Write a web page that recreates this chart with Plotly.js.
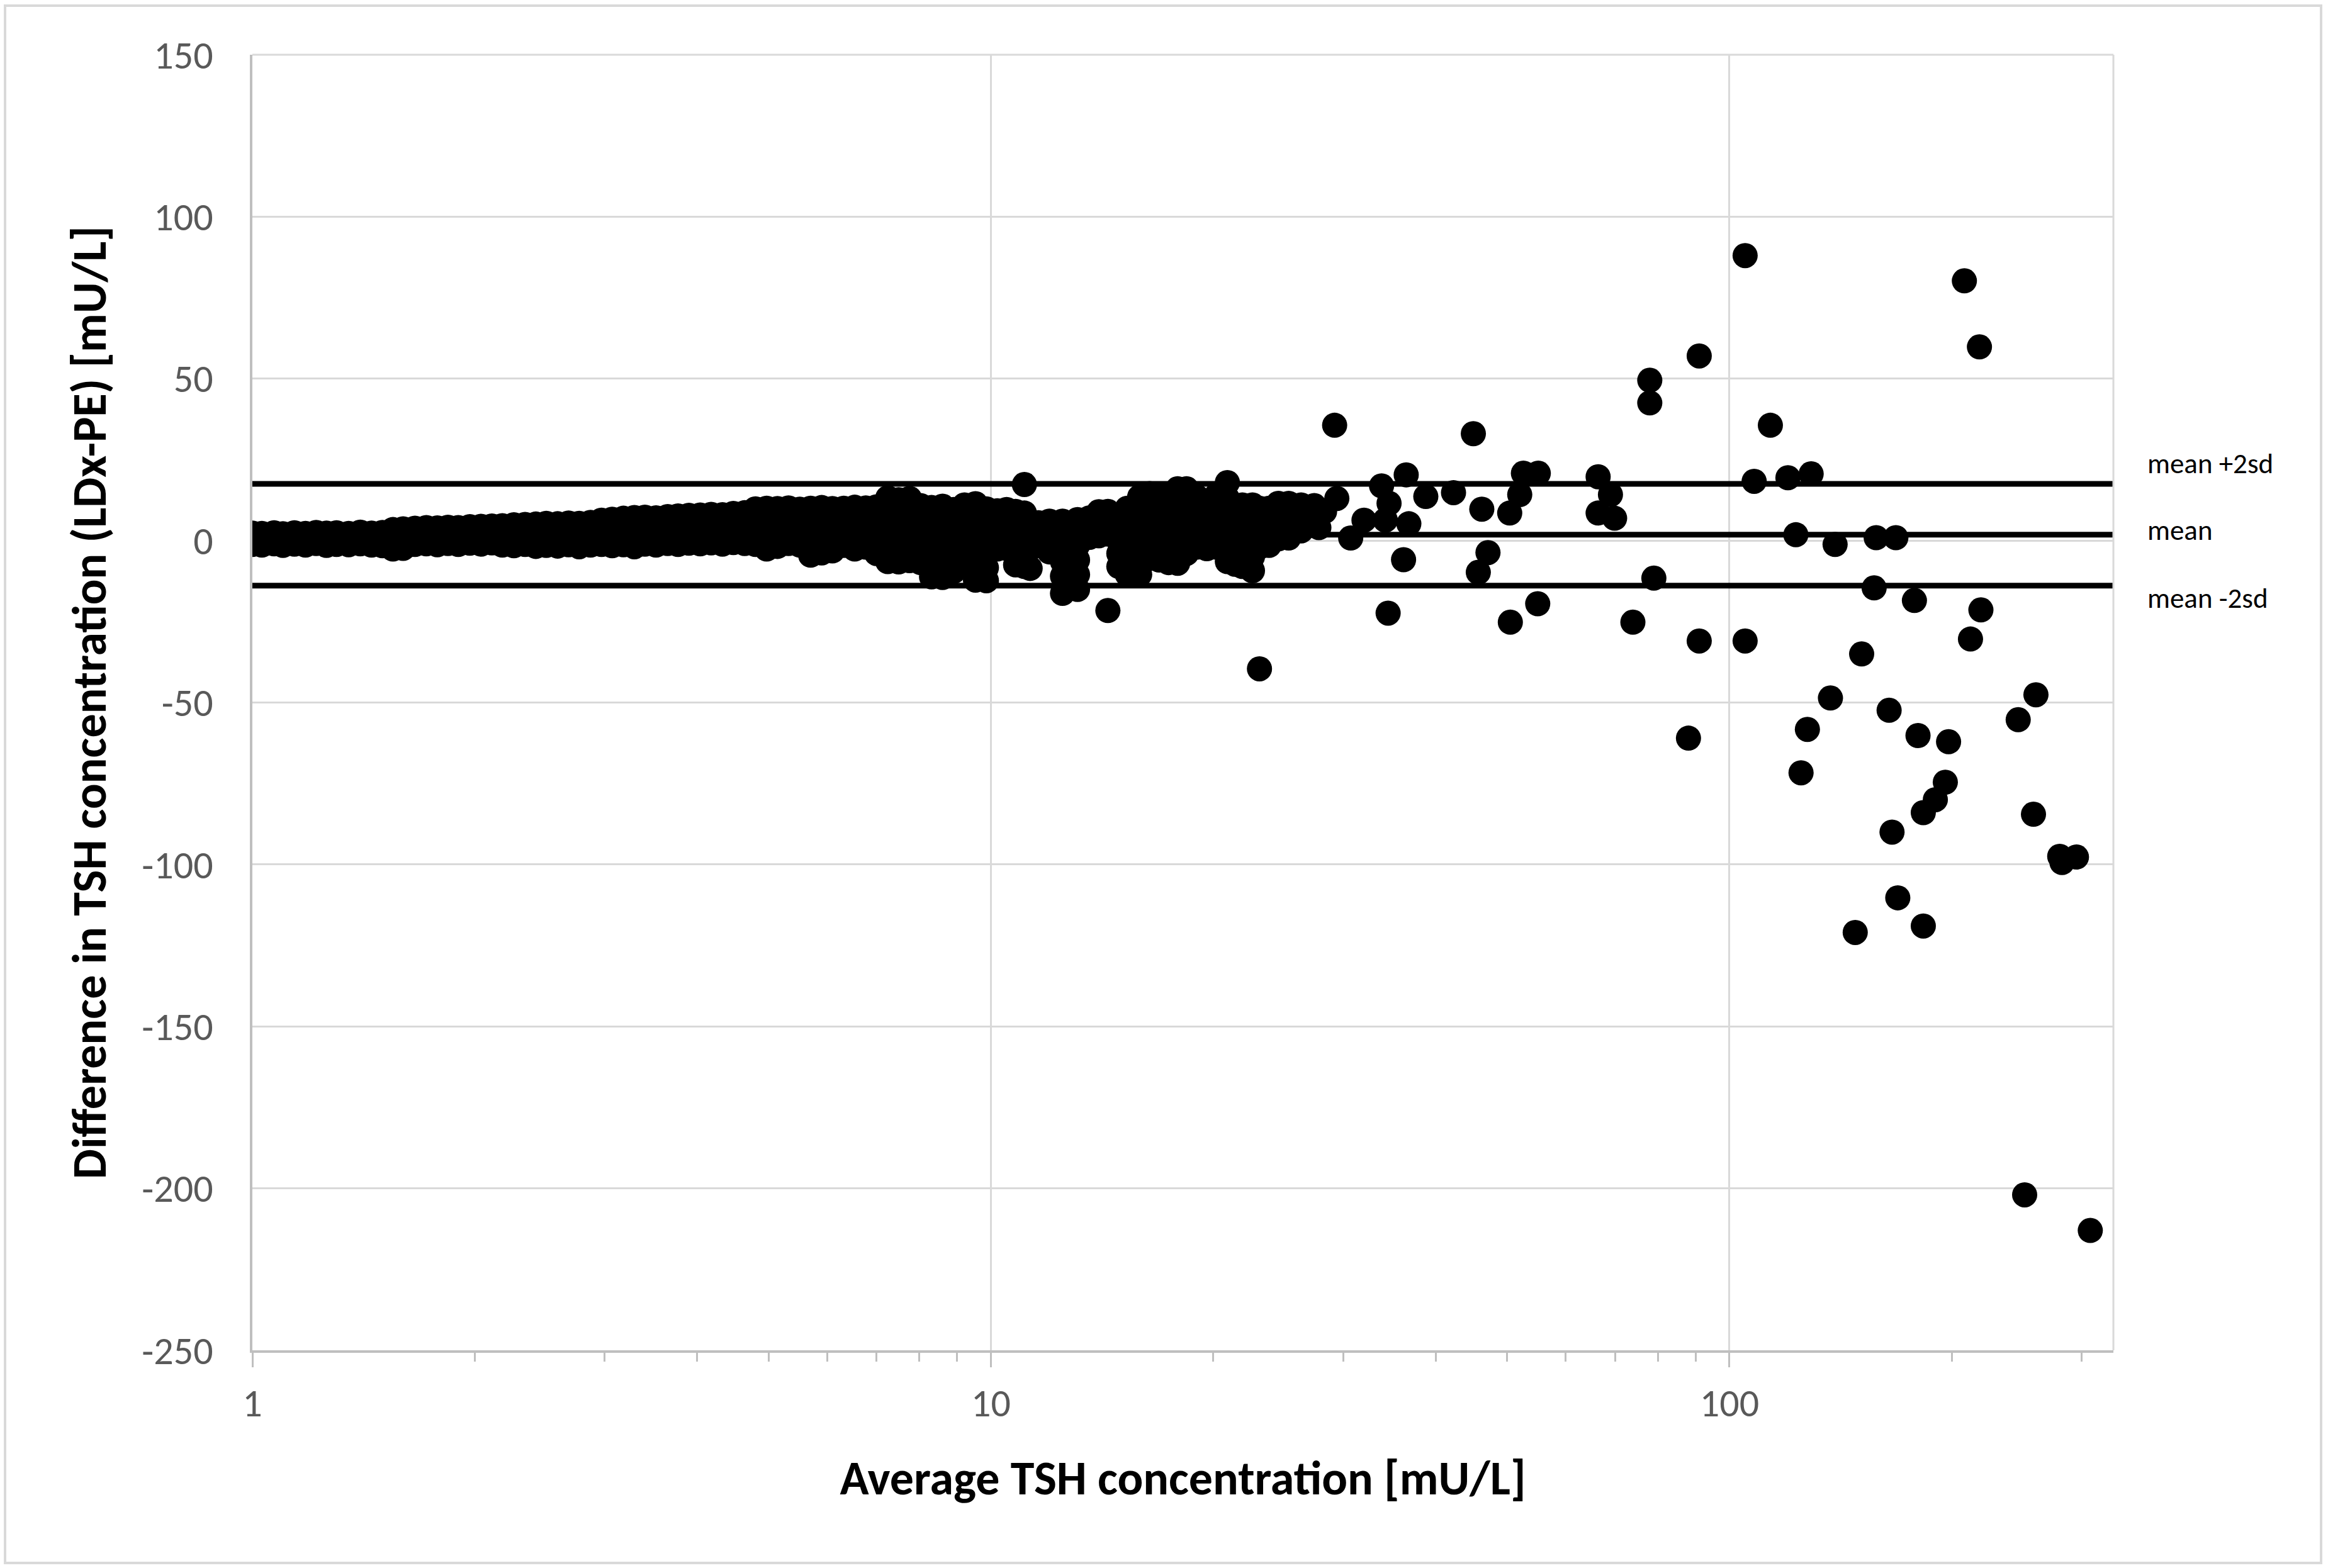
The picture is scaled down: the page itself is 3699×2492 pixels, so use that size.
<!DOCTYPE html>
<html>
<head>
<meta charset="utf-8">
<script src="https://cdn.plot.ly/plotly-3.0.1.min.js"></script>
<style>
html,body{margin:0;padding:0;background:#ffffff;}
#chart{width:3699px;height:2492px;}
</style>
</head>
<body>
<div id="chart"></div>
<script>
// Average TSH concentration [mU/L] (x) and the differences (y) read at each x
const avgTSH = [1.00,1.03,1.07,1.10,1.14,1.18,1.22,1.26,1.30,1.35,1.40,1.45,1.50,1.55,1.60,1.66,1.72,1.78,1.84,1.90,
  1.97,2.04,2.11,2.18,2.26,2.34,2.42,2.50,2.59,2.68,2.77,2.87,2.97,3.07,3.18,3.29,3.40,3.52,3.65,3.77,
  3.90,4.04,4.18,4.33,4.48,4.64,4.80,4.97,5.14,5.32,5.51,5.70,5.90,6.10,6.32,6.54,6.77,7.00,7.25,7.50,
  7.76,8.03,8.31,8.60,8.90,9.21,9.53,9.86,10.2,10.5,10.8,11.1,11.3,11.6,12.0,12.5,13.1,13.6,14.0,14.4,
  14.9,15.3,15.9,16.4,16.9,17.4,17.9,18.4,19.0,19.6,20.2,20.9,21.4,21.9,22.6,23.1,23.8,24.5,25.3,26.3,
  27.4,27.8,28.3,29.2,29.4,30.7,32.0,33.8,34.2,34.5,34.6,36.2,36.5,36.8,38.8,42.3,45.0,45.7,46.2,47.1,
  50.4,50.5,52.0,52.6,55.0,55.1,66.4,69.0,69.9,74.0,78.0,79.0,88.0,91.0,105,108,113.6,120,123,125,
  127.5,129,137,139,148,151,157,158,164.5,166,168,169,178,180,183,190,196,198,208,212,
  218,219,246,251,258,260,280,282,295,308];

const diffTSH = [
  [-1.2,1.0,2.3],[-1.4,0.6,2.2],[-1.0,1.2,2.4],[-1.5,0.4,2.1],[-1.1,0.9,2.4],[-1.4,0.7,2.2],[-0.9,1.1,2.5],[-1.5,0.3,2.3],[-1.2,1.0,2.4],[-1.3,0.8,2.2],
  [-1.0,1.2,2.6],[-1.4,0.5,2.3],[-1.6,0.9,2.5],[-2.6,0.4,3.4],[-2.4,1.0,3.6],[-1.2,1.3,3.8],[-1.0,1.6,4.0],[-1.3,1.1,3.9],[-0.9,1.8,4.1],[-1.2,1.4,4.0],
  [-0.8,1.9,4.3],[-1.1,1.5,4.4],[-0.7,2.0,4.5],[-1.4,1.7,4.6],[-1.6,1.8,4.9],[-1.2,2.2,5.0],[-1.8,1.6,5.1],[-1.5,2.0,5.3],[-1.7,2.3,5.2],[-1.3,2.1,5.4],
  [-1.9,1.9,5.3],[-1.4,2.4,5.6],[-1.2,2.6,6.3],[-1.6,2.2,6.6],[-1.3,2.8,6.9],[-1.9,2.5,7.1],[-1.1,3.0,7.2],[-1.4,2.7,7.0],[-0.9,3.3,7.4],[-1.2,3.1,7.6],
  [-0.8,3.5,7.8],[-1.0,3.2,7.9],[-0.7,3.6,8.1],[-1.1,3.4,8.0],[-0.6,3.9,8.4],[-0.9,3.5,8.6],[-1.2,3.0,6.5,9.8],[-2.6,1.5,5.6,10.0],[-1.8,2.0,6.0,9.9],[-0.9,2.6,6.4,10.1],
  [-1.4,2.2,5.8,9.7],[-4.5,-0.5,3.0,6.6,10.0],[-3.8,0.2,3.6,7.0,10.2],[-3.2,0.6,4.0,7.3,9.9],[-1.5,2.4,6.2,10.0],[-2.6,1.2,4.8,8.0,10.3],[-2.0,1.8,5.2,8.4,10.1],[-4.0,-0.2,3.4,7.0,10.4],[-6.5,-2.5,1.5,5.4,9.2,13.2],[-6.6,-2.8,1.0,4.8,8.6,12.6],
  [-6.2,-2.2,1.8,5.6,9.4,13.0],[-6.8,-3.0,0.8,4.6,8.2,10.8],[-11.2,-7.2,-3.2,0.6,4.4,8.0,10.2],[-11.4,-7.4,-3.4,0.4,4.2,7.8,10.6],[-9.5,-5.6,-1.8,2.0,5.8,9.6],[-8.0,-4.2,-0.4,3.4,7.2,11.0],[-12.2,-8.2,-4.2,-0.2,3.8,7.6,11.4],[-12.4,-8.4,-4.4,-0.4,3.4,7.0,9.8],[-2.6,1.0,4.8,9.2],[-2.4,1.2,5.0,9.6],
  [-7.5,-3.0,1.0,5.0,9.0],[-8.0,-4.0,0.5,4.5,8.5,17.3],[-8.6,-2.5,2.0,6.0],[-1.0,3.0,5.5],[-3.5,0.5,4.0,6.0],[-16.3,-11.0,-6.5,-2.0,2.0,6.0],[-15.1,-10.5,-6.0,-1.5,2.5,6.5],[1.0,4.0,7.0],[1.5,5.0,8.9],[-21.6,2.0,6.0,9.0],
  [-8.0,-4.0,0.0,4.0,8.0],[-10.5,-6.0,-2.0,2.0,6.0,10.0],[-10.5,-6.0,-2.0,2.0,6.0,9.5,13.5],[-5.5,-1.5,2.5,6.5,10.5,14.5],[-6.0,-2.0,2.0,6.0,10.0,14.0],[-6.8,-3.0,1.0,5.0,9.0,13.0],[-7.0,-3.5,0.5,4.5,8.5,12.5,16.0],[-4.0,0.0,4.0,8.0,12.0,16.0],[-2.0,2.0,6.0,10.0,13.5],[-2.5,1.5,5.5,9.5],
  [-2.0,2.0,6.0,10.0,14.0],[-6.5,-3.0,1.0,5.0,9.0,13.0,17.9],[-7.3,-3.5,0.5,4.5,8.5],[-8.0,-4.0,0.0,4.0,8.0,11.0],[-9.3,-5.0,-1.0,3.0,7.0,11.0],[-39.6,-2.0,2.0,6.0,10.0],[-1.5,2.5,6.5,10.0],[0.5,4.5,8.5,11.5],[0.8,6.4,11.5],[3.0,8.0,11.0],
  [6.0,10.8],[4.0],[9.0],[35.6],[13.0],[0.8],[6.3],[16.9],[6.3],[-22.4],
  [11.5],[-5.9],[20.3],[5.2],[13.6],[14.8],[33.0],[-9.8],[9.7],[-3.7],
  [8.5],[-25.2],[14.2],[20.8],[-19.5],[20.8],[8.5,19.7],[14.2],[6.9],[-25.2],
  [42.5,49.5],[-11.6],[-61.0],[-31.0,57.0],[-31.0,88.0],[18.3],[35.6],[19.4],[1.8],[-71.7],
  [-58.3],[20.6],[-48.6],[-1.2],[-121.0],[-35.0],[-14.6],[0.9],[-52.4],[-90.0],
  [0.9],[-110.3],[-18.5],[-60.2],[-119.0,-84.0],[-80.0],[-74.6],[-62.1],[80.2],[-30.4],
  [59.8],[-21.4],[-55.3],[-202.0],[-84.5],[-47.6],[-97.5],[-99.4],[-97.7],[-213.0]
];

// Bland-Altman limits
const meanDiff = 1.8;
const upperLimit = 17.5;
const lowerLimit = -13.9;
const limitNames = ['mean +2sd', 'mean', 'mean -2sd'];
const limitValues = [upperLimit, meanDiff, lowerLimit];

// axes
const xMin = 1, xMax = 331;
const xTickVals = [1, 10, 100];
const xTickText = ['1', '10', '100'];
const yTickVals = [150, 100, 50, 0, -50, -100, -150, -200, -250];
const yTickText = ['150', '100', '50', '0', '-50', '-100', '-150', '-200', '-250'];
const xTitle = 'Average TSH concentration [mU/L]';
const yTitle = 'Difference in TSH concentration (LDx-PE) [mU/L]';

// flatten the columns into points
const px = [], py = [];
avgTSH.forEach((x, i) => diffTSH[i].forEach(y => { px.push(x); py.push(y); }));

const minorVals = [];
[1, 10, 100].forEach(d => { for (let k = 2; k <= 9; k++) { if (k * d <= xMax) minorVals.push(k * d); } });

const FONT = 'Carlito, Calibri, "Liberation Sans Narrow", "Open Sans", sans-serif';

const traces = [{
  type: 'scatter', mode: 'markers', x: px, y: py,
  marker: { color: '#000000', size: 40, line: { width: 0 } },
  hoverinfo: 'x+y'
}];
limitValues.forEach((v, i) => {
  traces.push({
    type: 'scatter', mode: 'lines', x: [xMin, xMax], y: [v, v], name: limitNames[i],
    line: { color: '#000000', width: 9 }
  });
});

const W = 3699, H = 2492, L = 401, R = 341, T = 87, B = 346;
const pw = W - L - R, ph = H - T - B;
const toPX = p => (p - L) / pw;
const toPY = p => (H - B - p) / ph;

const annotations = limitNames.map((n, i) => ({
  text: n, xref: 'paper', yref: 'y', x: toPX(3410), y: [23.9, 3.3, -17.7][i],
  xanchor: 'left', yanchor: 'middle', showarrow: false,
  font: { family: FONT, size: 45, color: '#000000' }
}));

const layout = {
  width: W, height: H,
  margin: { l: L, r: R, t: T, b: B },
  paper_bgcolor: '#ffffff', plot_bgcolor: '#ffffff',
  showlegend: false,
  font: { family: FONT, color: '#595959' },
  xaxis: {
    type: 'log', range: [Math.log10(xMin), Math.log10(xMax)],
    tickmode: 'array', tickvals: xTickVals, ticktext: xTickText,
    showgrid: true, gridcolor: '#d9d9d9', gridwidth: 3,
    showline: true, linecolor: '#bfbfbf', linewidth: 4,
    ticks: 'outside', ticklen: 23, tickwidth: 3, tickcolor: '#bfbfbf',
    minor: { tickmode: 'array', tickvals: minorVals, ticks: 'outside', ticklen: 14, tickwidth: 3, tickcolor: '#bfbfbf', showgrid: false },
    tickfont: { family: FONT, size: 62, color: '#595959' },
    ticklabelstandoff: 4,
    zeroline: false, automargin: false,
    title: { text: xTitle, font: { family: FONT, size: 76, color: '#000000', weight: 'bold' }, standoff: 55 }
  },
  yaxis: {
    range: [-250, 150],
    tickmode: 'array', tickvals: yTickVals, ticktext: yTickText,
    showgrid: true, gridcolor: '#d9d9d9', gridwidth: 3,
    showline: true, linecolor: '#bfbfbf', linewidth: 4,
    ticks: '', zeroline: false, automargin: false,
    tickfont: { family: FONT, size: 62, color: '#595959' },
    ticklabelstandoff: 46,
    title: { text: yTitle, font: { family: FONT, size: 76, color: '#000000', weight: 'bold' }, standoff: 33 }
  },
  shapes: [
    { type: 'line', xref: 'paper', yref: 'paper', x0: 1, x1: 1, y0: 0, y1: 1, line: { color: '#d9d9d9', width: 3 } },
    { type: 'line', xref: 'paper', yref: 'paper', x0: 0, x1: 1, y0: 1, y1: 1, line: { color: '#d9d9d9', width: 3 } },
    { type: 'rect', xref: 'paper', yref: 'paper', x0: toPX(8), x1: toPX(3688), y0: toPY(2484), y1: toPY(9), line: { color: '#d9d9d9', width: 4 }, fillcolor: 'rgba(0,0,0,0)' }
  ],
  annotations: annotations
};

Plotly.newPlot('chart', traces, layout, { staticPlot: true, displayModeBar: false });
</script>
</body>
</html>
